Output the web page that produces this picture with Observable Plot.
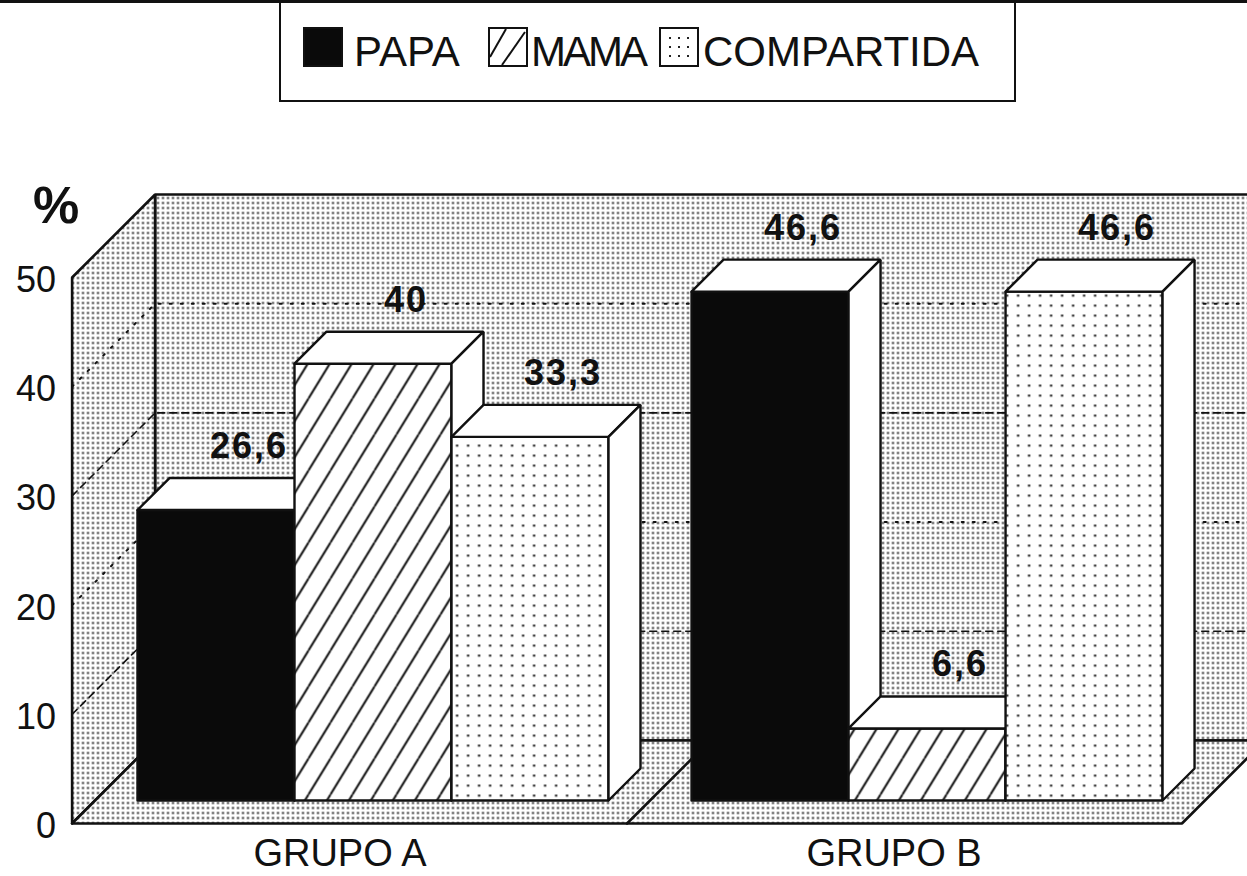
<!DOCTYPE html>
<html>
<head>
<meta charset="utf-8">
<script src="https://cdn.jsdelivr.net/npm/d3@7"></script>
<script src="https://cdn.jsdelivr.net/npm/@observablehq/plot@0.6"></script>
<style>
  body { margin: 0; background: #fff; font-family: "Liberation Sans", Arial, Helvetica, sans-serif; }
  #page { position: relative; width: 1247px; height: 876px; overflow: hidden; background: #fff; }
  #topline { position: absolute; left: 0; top: 0; width: 1247px; height: 3px; background: #111; }
  #legendbox { position: absolute; left: 279px; top: 0; width: 737px; height: 102px; border: 2px solid #111; box-sizing: border-box; }
  .sw { position: absolute; top: 27px; }
  .lt { position: absolute; top: 31px; font-size: 42px; line-height: 42px; color: #111; white-space: nowrap; }
  #chart { position: absolute; left: 0; top: 110px; }
</style>
</head>
<body>
<svg width="0" height="0" style="position:absolute">
  <defs>
    <pattern id="dense" width="5" height="5" patternUnits="userSpaceOnUse">
      <rect width="5" height="5" fill="#fff"/>
      <rect x="1.5" y="1.5" width="2" height="2" fill="#222"/>
    </pattern>
    <pattern id="sparse" width="11" height="10" patternUnits="userSpaceOnUse">
      <rect width="11" height="10" fill="#fff"/>
      <rect x="4.5" y="4" width="2.2" height="2.2" fill="#222"/>
    </pattern>
    <pattern id="hatch" width="22" height="36" patternUnits="userSpaceOnUse">
      <rect width="22" height="36" fill="#fff"/>
      <line x1="0" y1="36" x2="22" y2="0" stroke="#111" stroke-width="2"/>
      <line x1="-22" y1="36" x2="0" y2="0" stroke="#111" stroke-width="2"/>
      <line x1="22" y1="36" x2="44" y2="0" stroke="#111" stroke-width="2"/>
    </pattern>
  </defs>
</svg>
<div id="page">
  <div id="topline"></div>
  <div id="legendbox"></div>
  <svg class="sw" style="left:303px" width="40" height="40"><rect x="1" y="1" width="38" height="38" fill="#0a0a0a" stroke="#111" stroke-width="2"/></svg>
  <div class="lt" id="lt0" style="left:354px"></div>
  <svg class="sw" style="left:488px" width="40" height="40"><rect x="1" y="1" width="38" height="38" fill="#fff" stroke="#111" stroke-width="2"/><line x1="2" y1="30" x2="18" y2="2" stroke="#111" stroke-width="2"/><line x1="14" y1="38" x2="37" y2="5" stroke="#111" stroke-width="2"/></svg>
  <div class="lt" id="lt1" style="left:531px;letter-spacing:-3px"></div>
  <svg class="sw" style="left:659px" width="40" height="40"><rect x="1" y="1" width="38" height="38" fill="#fff" stroke="#111" stroke-width="2"/><g fill="#222"><rect x="10" y="10" width="2" height="2"/><rect x="19" y="10" width="2" height="2"/><rect x="28" y="10" width="2" height="2"/><rect x="10" y="19" width="2" height="2"/><rect x="19" y="19" width="2" height="2"/><rect x="28" y="19" width="2" height="2"/><rect x="10" y="28" width="2" height="2"/><rect x="19" y="28" width="2" height="2"/><rect x="28" y="28" width="2" height="2"/></g></svg>
  <div class="lt" id="lt2" style="left:703px"></div>
  <div id="chart"></div>
</div>
<script>
// ---- data ----
const series = ["PAPA", "MAMA", "COMPARTIDA"];
const groups = ["GRUPO A", "GRUPO B"];
const grupoA = [26.6, 40, 33.3];
const grupoB = [46.6, 6.6, 46.6];
const yTickLabels = [0, 10, 20, 30, 40, 50];
const gridValues = [10, 20, 30, 40];
const yMax = 50;

// ---- styles / layout ----
const seriesFill = {PAPA: "#0a0a0a", MAMA: "url(#hatch)", COMPARTIDA: "url(#sparse)"};
const PXS = 157, PXV = 10.92;      // pixels per slot / per percent
const GAP = 0.529, MARGIN = 0.27;  // gap between groups, floor margin (slots)
const DF = -23, DB = 60, DBAR = 32; // depths in px: floor front, back wall, bar depth

series.forEach((s, i) => document.getElementById("lt" + i).textContent = s);

const P = (xs, v, d) => ({x: xs + d / PXS, y: v + d / PXV});
const groupValues = [grupoA, grupoB];
const bars = groups.flatMap((g, gi) => series.map((s, si) => ({
  group: g, series: s, value: groupValues[gi][si], x0: gi * (3 + GAP) + si
})));

const xL = -MARGIN, xR = 3 + GAP + 3 + MARGIN, xD = (3 + 3 + GAP) / 2;

function polyRows(polys) {
  const rows = [];
  polys.forEach((p, i) => {
    const pts = [...p.pts, p.pts[0]];
    pts.forEach(pt => rows.push({id: i, fill: p.fill, x: pt.x, y: pt.y}));
  });
  return rows;
}

const walls = polyRows([
  {fill: "url(#dense)", pts: [P(xL, 0, DB), P(xR, 0, DB), P(xR, yMax, DB), P(xL, yMax, DB)]},
  {fill: "url(#dense)", pts: [P(xL, 0, DF), P(xL, 0, DB), P(xL, yMax, DB), P(xL, yMax, DF)]},
  {fill: "url(#dense)", pts: [P(xL, 0, DF), P(xR, 0, DF), P(xR, 0, DB), P(xL, 0, DB)]}
]);

function gridRows(vals) {
  const rows = [];
  vals.forEach((v, i) => {
    [P(xL, v, DF), P(xL, v, DB), P(xR, v, DB)].forEach(pt => rows.push({id: i, x: pt.x, y: pt.y}));
  });
  return rows;
}
const dashed = gridRows(gridValues.filter((v, i) => i % 2 === 0));
const dotted = gridRows(gridValues.filter((v, i) => i % 2 === 1));
const divider = [P(xD, 0, DF), P(xD, 0, DB)];

const barPolys = [];
bars.forEach(b => {
  const a = b.x0, c = b.x0 + 1, v = b.value;
  barPolys.push({fill: seriesFill[b.series], pts: [P(a, 0, 0), P(c, 0, 0), P(c, v, 0), P(a, v, 0)]});
  barPolys.push({fill: "#fff", pts: [P(a, v, 0), P(c, v, 0), P(c, v, DBAR), P(a, v, DBAR)]});
  barPolys.push({fill: "#fff", pts: [P(c, 0, 0), P(c, 0, DBAR), P(c, v, DBAR), P(c, v, 0)]});
});
const barRows = polyRows(barPolys);

const valueLabels = bars.map(b => ({
  x: b.x0 + 0.5 + 33 / PXS,
  y: b.value + (DBAR + 20) / PXV,
  text: String(b.value).replace(".", ",")
}));
const tickLabels = yTickLabels.map(v => ({...P(xL, v, DF), text: String(v)}));
const groupLabels = groups.map((g, gi) => ({...P(gi * (3 + GAP) + 1.5, 0, DF), text: g}));
const pct = [{...P(xL, yMax, DF), text: "%"}];

const chart = Plot.plot({
  width: 1247,
  height: 766,
  margin: 0,
  x: {type: "linear", domain: [0, 1], range: [137, 137 + PXS], axis: null},
  y: {type: "linear", domain: [0, yMax], range: [690, 690 - yMax * PXV], axis: null},
  color: {type: "identity"},
  style: {fontFamily: '"Liberation Sans", Arial, Helvetica, sans-serif', background: "transparent", color: "#111", overflow: "visible"},
  marks: [
    Plot.line(walls, {x: "x", y: "y", z: "id", fill: "fill", stroke: "#111", strokeWidth: 2.6, strokeLinejoin: "miter"}),
    Plot.line(dashed, {x: "x", y: "y", z: "id", stroke: "#111", strokeWidth: 1.6, strokeDasharray: "7,5"}),
    Plot.line(dotted, {x: "x", y: "y", z: "id", stroke: "#111", strokeWidth: 2, strokeDasharray: "2,9"}),
    Plot.line(divider, {x: "x", y: "y", stroke: "#111", strokeWidth: 2.6}),
    Plot.line(barRows, {x: "x", y: "y", z: "id", fill: "fill", stroke: "#111", strokeWidth: 2.4, strokeLinejoin: "miter"}),
    Plot.text(tickLabels, {x: "x", y: "y", text: "text", textAnchor: "end", lineAnchor: "middle", dx: -16, dy: 3, fontSize: 36, fill: "#111"}),
    Plot.text(groupLabels, {x: "x", y: "y", text: "text", textAnchor: "middle", lineAnchor: "middle", dx: -10, dy: 30, fontSize: 38, fill: "#111"}),
    Plot.text(valueLabels, {x: "x", y: "y", text: "text", textAnchor: "middle", lineAnchor: "bottom", fontSize: 36, fontWeight: "bold", fill: "#111"}),
    Plot.text(pct, {x: "x", y: "y", text: "text", textAnchor: "middle", lineAnchor: "bottom", dx: -15, dy: -55, fontSize: 52, fontWeight: "bold", fill: "#111"})
  ]
});
d3.select(chart).selectAll('g[font-weight="bold"] text').style("letter-spacing", "2px");
document.getElementById("chart").appendChild(chart);
</script>
</body>
</html>
